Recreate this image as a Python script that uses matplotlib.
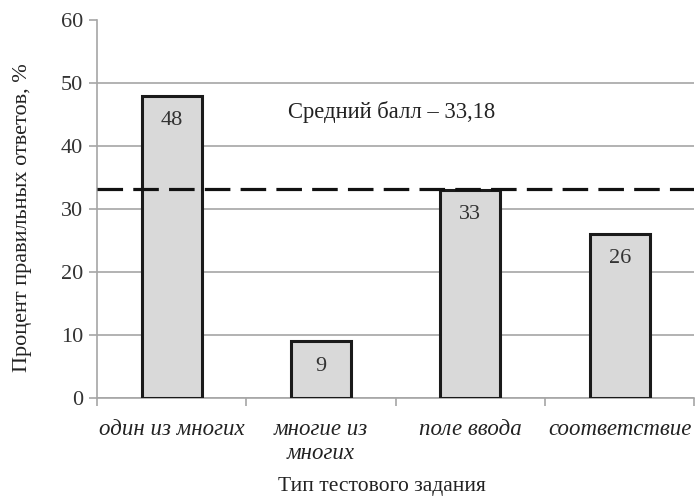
import matplotlib
matplotlib.use("Agg")
import matplotlib.pyplot as plt
import numpy as np

categories = ["один из многих", "многие из\nмногих", "поле ввода", "соответствие"]
percent_correct = [48, 9, 33, 26]
mean_score = 33.18
mean_label = "Средний балл – 33,18"
y_ticks = [0, 10, 20, 30, 40, 50, 60]

plt.rcParams["font.family"] = ["Liberation Serif", "DejaVu Serif"]
grid_grey = "#a6a6a6"

fig = plt.figure(figsize=(6.95, 4.97), dpi=100)
ax = fig.add_axes([0.1396, 0.1992, 0.8594, 0.7606])

x = np.arange(len(categories))
bars = ax.bar(x, percent_correct, width=0.4, color="#d9d9d9",
              edgecolor="#1a1a1a", linewidth=2.2, zorder=3)

for rect, val in zip(bars, percent_correct):
    ax.annotate(str(val), (rect.get_x() + rect.get_width() / 2, val),
                xytext=(0, -11), textcoords="offset points",
                ha="center", va="top", fontsize=16, color="#333333", zorder=4)

# average score line
ax.axhline(mean_score, color="#111111", linewidth=2.3,
           dashes=(8, 3.2), zorder=5)
ax.text(1.47, 45.4, mean_label, ha="center", va="center",
        fontsize=16.3, color="#222222")

ax.set_xlim(-0.5, len(categories) - 0.5)
ax.set_ylim(0, 60)
ax.set_yticks(y_ticks)
ax.yaxis.grid(True, color=grid_grey, linewidth=1.2, zorder=0)
ax.set_axisbelow(True)
ax.get_ygridlines()[-1].set_visible(False)

ax.set_xticks(x)
ax.set_xticklabels(categories, fontstyle="italic", fontsize=16.5, color="#222222")
ax.tick_params(axis="x", which="major", length=0, pad=15)
ax.set_xticks(np.arange(-0.5, len(categories)), minor=True)
ax.tick_params(axis="x", which="minor", length=6, color=grid_grey, width=1.2)
ax.tick_params(axis="y", length=6, color=grid_grey, width=1.2,
               labelsize=16, labelcolor="#333333", pad=4)

for side in ["top", "right"]:
    ax.spines[side].set_visible(False)
for side in ["left", "bottom"]:
    ax.spines[side].set_color(grid_grey)
    ax.spines[side].set_linewidth(1.2)

ax.set_xlabel("Тип тестового задания", fontsize=15.5, color="#222222", va="center")
ax.xaxis.set_label_coords(0.477, -0.235)
ax.set_ylabel("Процент правильных ответов, %", fontsize=16, color="#222222", va="center")
ax.yaxis.set_label_coords(-0.125, 0.476)

fig.savefig("out.png", dpi=100)
